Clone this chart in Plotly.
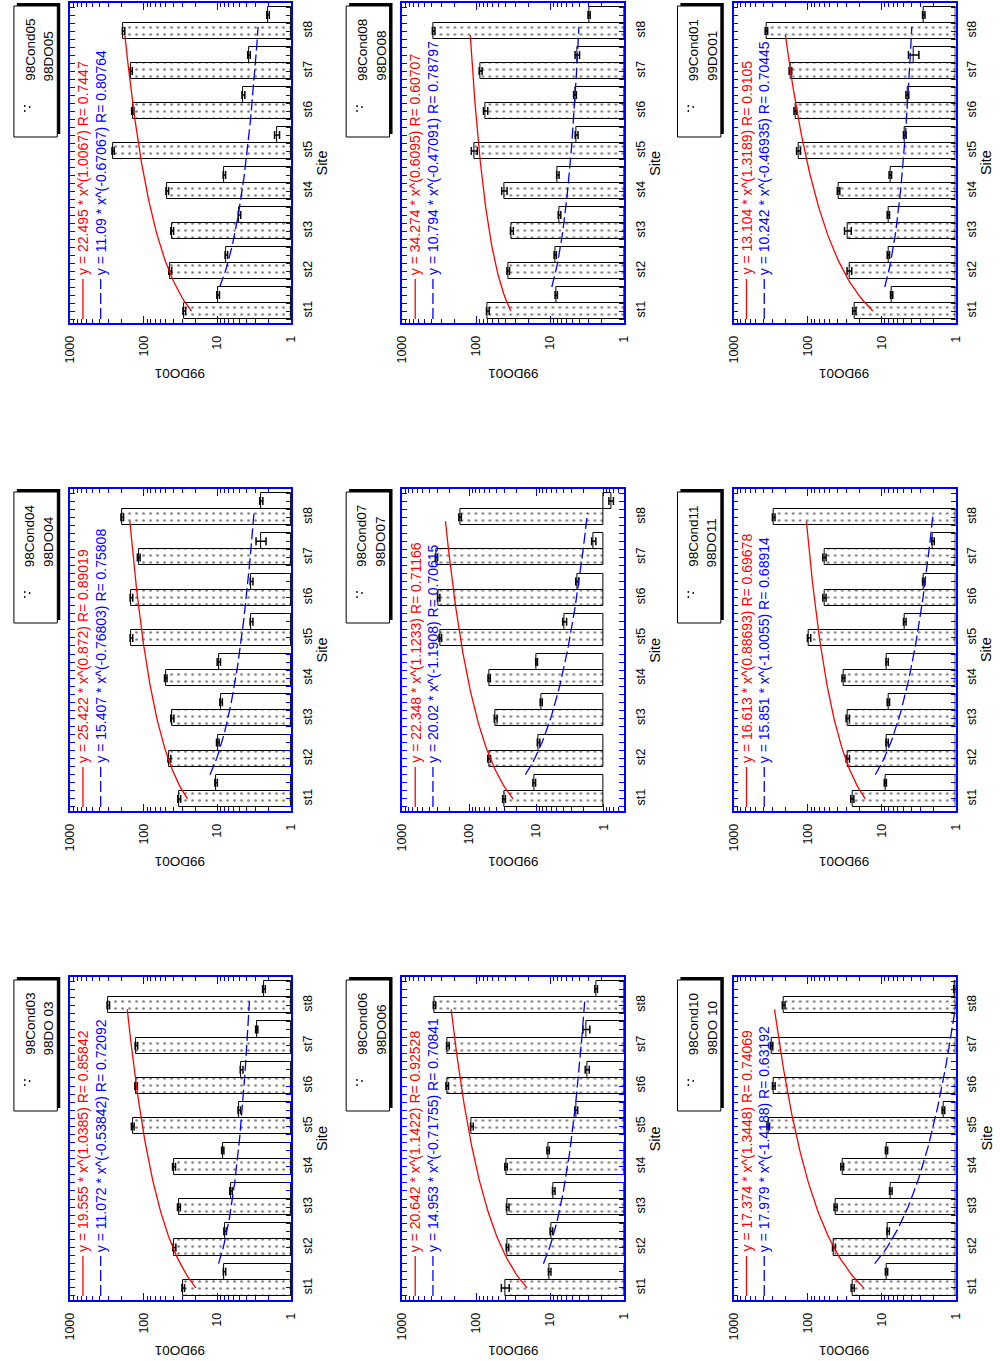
import plotly.graph_objects as go
import numpy as np

W, H = 1000, 1361
FONT = "Liberation Sans, Arial, sans-serif"

sites = ["st1", "st2", "st3", "st4", "st5", "st6", "st7", "st8"]
site_pos = [1, 2, 3, 4, 5, 6, 7, 8]
value_ticks = [1, 10, 100, 1000]
value_tick_text = ["1", "10", "100", "1000"]

# ---------------- data ----------------
cond05 = [28.1, 43.7, 41.1, 47.9, 261, 141, 148, 188]
do05 = [9.76, 7.55, 5.01, 8.03, 1.55, 4.43, 3.72, 2.05]
cond05_err = [1.2, 2.0, 1.8, 2.0, 9, 5, 5, 7]
do05_err = [0.4, 0.3, 0.2, 0.3, 0.12, 0.2, 0.15, 0.08]

cond08 = [69.9, 37.1, 33.1, 41.9, 107, 75.1, 87.5, 378]
do08 = [8.32, 8.58, 7.51, 7.9, 4.41, 4.64, 4.32, 2.99]
cond08_err = [3, 1.5, 1.5, 3.5, 10, 5, 4, 15]
do08_err = [0.3, 0.3, 0.3, 0.3, 0.2, 0.2, 0.3, 0.1]

cond9901 = [23.4, 27.3, 28.7, 38.2, 133, 147, 171, 361]
do9901 = [7.31, 8.1, 8.1, 7.62, 4.86, 4.49, 3.73, 2.69]
cond9901_err = [1.2, 2.0, 3.0, 1.5, 8, 6, 7, 14]
do9901_err = [0.25, 0.3, 0.3, 0.3, 0.2, 0.2, 0.6, 0.1]

cond04 = [33.0, 44.9, 40.9, 50.2, 147, 147, 117, 196]
do04 = [10.4, 9.86, 8.9, 9.55, 3.44, 3.43, 2.58, 2.53]
cond04_err = [1.5, 2, 2, 2, 6, 6, 5, 8]
do04_err = [0.4, 0.4, 0.35, 0.5, 0.15, 0.15, 0.4, 0.12]

cond07 = [30.5, 50.8, 40.6, 50.8, 272, 288, 311, 138]
do07 = [10.8, 9.3, 8.49, 9.95, 3.80, 2.47, 1.40, 0.77]
cond07_err = [1.5, 2.5, 2, 2, 12, 12, 12, 6]
do07_err = [0.5, 0.4, 0.3, 0.3, 0.25, 0.12, 0.1, 0.06]

cond11 = [24.9, 28.7, 28.7, 32.8, 95.7, 59.3, 59.3, 288]
do11 = [8.9, 8.43, 8.1, 8.43, 4.86, 2.69, 2.02, None]
cond11_err = [1.2, 1.5, 1.5, 1.5, 5, 3, 3, 12]
do11_err = [0.3, 0.3, 0.3, 0.3, 0.2, 0.1, 0.08, 0]

cond03 = [29.1, 38.4, 33.3, 38.8, 141, 127, 126, 303]
do03 = [8.0, 7.85, 6.53, 8.45, 5.04, 4.69, 2.92, 2.33]
cond03_err = [1.2, 1.8, 1.5, 1.8, 6, 5, 5, 12]
do03_err = [0.3, 0.3, 0.25, 0.3, 0.2, 0.2, 0.1, 0.1]

cond06 = [40.9, 38.0, 37.7, 39.7, 115, 248, 243, 368]
do06 = [10.2, 9.66, 8.98, 10.7, 4.46, 3.17, 3.27, 2.40]
cond06_err = [5, 1.5, 1.5, 1.5, 5, 10, 10, 14]
do06_err = [0.4, 0.4, 0.35, 0.4, 0.2, 0.2, 0.35, 0.1]

cond10 = [24.6, 44.1, 41.9, 34.1, 341, 287, 308, 211]
do10 = [8.58, 8.15, 7.51, 8.58, 1.46, None, None, 1.02]
cond10_err = [1.2, 2, 2, 1.5, 14, 12, 12, 9]
do10_err = [0.3, 0.3, 0.3, 0.3, 0.06, 0, 0, 0.04]

panels = [
    dict(n1="98Cond05", n2="98DO05", cond=cond05, do=do05, ce=cond05_err, de=do05_err,
         ra=22.495, rb=1.0067, rt="y = 22.495 * x^(1.0067) R= 0.7447",
         ba=11.09, bb=-0.67067, bt="y = 11.09 * x^(-0.67067) R= 0.80764", xmin=0),
    dict(n1="98Cond08", n2="98DO08", cond=cond08, do=do08, ce=cond08_err, de=do08_err,
         ra=34.274, rb=0.6095, rt="y = 34.274 * x^(0.6095) R= 0.60707",
         ba=10.794, bb=-0.47091, bt="y = 10.794 * x^(-0.47091) R= 0.78797", xmin=0),
    dict(n1="99Cond01", n2="99DO01", cond=cond9901, do=do9901, ce=cond9901_err, de=do9901_err,
         ra=13.104, rb=1.3189, rt="y = 13.104 * x^(1.3189) R= 0.9105",
         ba=10.242, bb=-0.46935, bt="y = 10.242 * x^(-0.46935) R= 0.70445", xmin=0),
    dict(n1="98Cond04", n2="98DO04", cond=cond04, do=do04, ce=cond04_err, de=do04_err,
         ra=25.422, rb=0.872, rt="y = 25.422 * x^(0.872) R= 0.89019",
         ba=15.407, bb=-0.76803, bt="y = 15.407 * x^(-0.76803) R= 0.75808", xmin=0),
    dict(n1="98Cond07", n2="98DO07", cond=cond07, do=do07, ce=cond07_err, de=do07_err,
         ra=22.348, rb=1.1233, rt="y = 22.348 * x^(1.1233) R= 0.71166",
         ba=20.02, bb=-1.1908, bt="y = 20.02 * x^(-1.1908) R= 0.70615", xmin=-0.31),
    dict(n1="98Cond11", n2="98DO11", cond=cond11, do=do11, ce=cond11_err, de=do11_err,
         ra=16.613, rb=0.88693, rt="y = 16.613 * x^(0.88693) R= 0.69678",
         ba=15.851, bb=-1.0055, bt="y = 15.851 * x^(-1.0055) R= 0.68914", xmin=0),
    dict(n1="98Cond03", n2="98DO 03", cond=cond03, do=do03, ce=cond03_err, de=do03_err,
         ra=19.555, rb=1.0385, rt="y = 19.555 * x^(1.0385) R= 0.85842",
         ba=11.072, bb=-0.53842, bt="y = 11.072 * x^(-0.53842) R= 0.72092", xmin=0),
    dict(n1="98Cond06", n2="98DO06", cond=cond06, do=do06, ce=cond06_err, de=do06_err,
         ra=20.642, rb=1.1422, rt="y = 20.642 * x^(1.1422) R= 0.92528",
         ba=14.953, bb=-0.71755, bt="y = 14.953 * x^(-0.71755) R= 0.70841", xmin=0),
    dict(n1="98Cond10", n2="98DO 10", cond=cond10, do=do10, ce=cond10_err, de=do10_err,
         ra=17.374, rb=1.3448, rt="y = 17.374 * x^(1.3448) R= 0.74069",
         ba=17.979, bb=-1.4188, bt="y = 17.979 * x^(-1.4188) R= 0.63192", xmin=0),
]

col_left = [64, 401, 737]
col_right = [288, 626, 962]
row_top = [3, 489, 977]
row_bot = [323, 811, 1300]

BAR_W = 0.4
DO_OFF = 0.4
BLUE = "#0000ff"
RED = "#ff0000"


def px(x):
    return x / W


def py(y):
    return 1 - y / H


fig = go.Figure()
shapes = []
annotations = []
layout_axes = {}

for i, p in enumerate(panels):
    r, c = divmod(i, 3)
    L, R_, T, B = col_left[c], col_right[c], row_top[r], row_bot[r]
    k = "" if i == 0 else str(i + 1)
    xr, yr = "x" + k, "y" + k

    cond_pos = [s for s, v in zip(site_pos, p["cond"]) if v is not None]
    cond_val = [v for v in p["cond"] if v is not None]
    do_pos = [s + DO_OFF for s, v in zip(site_pos, p["do"]) if v is not None]
    do_val = [v for v in p["do"] if v is not None]
    do_err = [e for e, v in zip(p["de"], p["do"]) if v is not None]

    fig.add_trace(go.Bar(
        x=[v - 1 for v in cond_val], base=1, y=cond_pos, width=BAR_W, orientation="h",
        marker=dict(color="white",
                    pattern=dict(shape=".", fgcolor="black", bgcolor="white", size=7, solidity=0.12),
                    line=dict(color="black", width=1)),
        xaxis=xr, yaxis=yr, showlegend=False, hoverinfo="skip"))
    fig.add_trace(go.Bar(
        x=[v - 1 for v in do_val], base=1, y=do_pos, width=BAR_W, orientation="h",
        marker=dict(color="white", line=dict(color="black", width=1)),
        xaxis=xr, yaxis=yr, showlegend=False, hoverinfo="skip"))
    # error bars
    fig.add_trace(go.Scatter(
        x=cond_val, y=cond_pos, mode="markers", marker=dict(size=1, color="rgba(0,0,0,0)"),
        error_x=dict(type="data", array=p["ce"], color="black", thickness=1.5, width=4),
        xaxis=xr, yaxis=yr, showlegend=False, hoverinfo="skip"))
    fig.add_trace(go.Scatter(
        x=do_val, y=do_pos, mode="markers", marker=dict(size=1, color="rgba(0,0,0,0)"),
        error_x=dict(type="data", array=do_err, color="black", thickness=1.5, width=4),
        xaxis=xr, yaxis=yr, showlegend=False, hoverinfo="skip"))

    # fitted power curves
    xr_fit = np.linspace(1.0, 7.9, 80)
    fig.add_trace(go.Scatter(
        x=p["ra"] * xr_fit ** p["rb"], y=xr_fit, mode="lines",
        line=dict(color=RED, width=1.3), xaxis=xr, yaxis=yr, showlegend=False, hoverinfo="skip"))
    xb_fit = np.linspace(1.3, 7.8, 80)
    fig.add_trace(go.Scatter(
        x=p["ba"] * xb_fit ** p["bb"], y=xb_fit + 0.3, mode="lines",
        line=dict(color=BLUE, width=1.3, dash="11px,4px"), xaxis=xr, yaxis=yr,
        showlegend=False, hoverinfo="skip"))

    minor_vals = [m * d for d in (1, 10, 100) for m in range(2, 10)]
    if p["xmin"] < 0:
        minor_vals = [0.5, 0.6, 0.7, 0.8, 0.9] + minor_vals

    layout_axes["xaxis" + k] = dict(
        domain=[px(L), px(R_)], anchor=yr, type="log", range=[3, p["xmin"]], autorange=False,
        showline=True, linecolor=BLUE, linewidth=1.5, mirror="ticks",
        ticks="inside", ticklen=7, tickcolor=BLUE, tickwidth=1,
        tickmode="array", tickvals=value_ticks, ticktext=value_tick_text, tickangle=-90,
        tickfont=dict(family=FONT, size=12.5, color="black"), ticklabelstandoff=6,
        minor=dict(tickmode="array", tickvals=minor_vals, ticks="inside", ticklen=4,
                   tickcolor=BLUE, tickwidth=1, showgrid=False),
        showgrid=False, zeroline=False, fixedrange=True)
    layout_axes["yaxis" + k] = dict(
        domain=[py(B), py(T)], anchor=xr, range=[0.7, 8.7], autorange=False, side="right",
        showline=True, linecolor=BLUE, linewidth=1.5, mirror="ticks",
        ticks="inside", ticklen=5, tickcolor=BLUE, tickwidth=1,
        tickmode="array", tickvals=site_pos, ticktext=sites, tickangle=-90,
        tickfont=dict(family=FONT, size=12.5, color="black"), ticklabelstandoff=4,
        minor=dict(dtick=0.2, tick0=0, ticks="inside", ticklen=5, tickcolor=BLUE, tickwidth=1,
                   showgrid=False),
        showgrid=False, zeroline=False, fixedrange=True)

    # equation "legend" inside the plot
    shapes.append(dict(type="line", xref="paper", yref="paper",
                       x0=px(L + 13), x1=px(L + 13), y0=py(B - 4), y1=py(B - 44),
                       line=dict(color=RED, width=1.3)))
    shapes.append(dict(type="line", xref="paper", yref="paper",
                       x0=px(L + 31), x1=px(L + 31), y0=py(B - 4), y1=py(B - 44),
                       line=dict(color=BLUE, width=1.3, dash="11px,4px")))
    annotations.append(dict(text=p["rt"], xref="paper", yref="paper", x=px(L + 13), y=py(B - 46),
                            xanchor="center", yanchor="bottom", textangle=-90, showarrow=False,
                            font=dict(family=FONT, size=14, color=RED)))
    annotations.append(dict(text=p["bt"], xref="paper", yref="paper", x=px(L + 31), y=py(B - 46),
                            xanchor="center", yanchor="bottom", textangle=-90, showarrow=False,
                            font=dict(family=FONT, size=14, color=BLUE)))

    # axis titles
    annotations.append(dict(text="Site", xref="paper", yref="paper", x=px(R_ + 31), y=py((T + B) / 2),
                            xanchor="center", yanchor="middle", textangle=-90, showarrow=False,
                            font=dict(family=FONT, size=14.5, color="black")))
    annotations.append(dict(text="99DO01", xref="paper", yref="paper", x=px((L + R_) / 2), y=py(B + 51),
                            xanchor="center", yanchor="middle", textangle=180, showarrow=False,
                            font=dict(family=FONT, size=13.5, color="black")))

    # series legend box with shadow
    shapes.append(dict(type="rect", xref="paper", yref="paper",
                       x0=px(L - 54), x1=px(L - 10), y0=py(T + 131), y1=py(T),
                       fillcolor="black", line=dict(width=0)))
    shapes.append(dict(type="rect", xref="paper", yref="paper",
                       x0=px(L - 57), x1=px(L - 13), y0=py(T + 134), y1=py(T + 3),
                       fillcolor="white", line=dict(color="black", width=1)))
    for dx, dy in [(-46, 103), (-46, 108), (-41, 104)]:
        shapes.append(dict(type="circle", xref="paper", yref="paper",
                           x0=px(L + dx - 0.9), x1=px(L + dx + 0.9),
                           y0=py(T + dy + 0.9), y1=py(T + dy - 0.9),
                           fillcolor="black", line=dict(width=0)))
    annotations.append(dict(text=p["n1"], xref="paper", yref="paper", x=px(L - 41), y=py(T + 80),
                            xanchor="center", yanchor="bottom", textangle=-90, showarrow=False,
                            font=dict(family=FONT, size=13.5, color="black")))
    annotations.append(dict(text=p["n2"], xref="paper", yref="paper", x=px(L - 22), y=py(T + 80),
                            xanchor="center", yanchor="bottom", textangle=-90, showarrow=False,
                            font=dict(family=FONT, size=13.5, color="black")))

fig.update_layout(
    width=W, height=H, margin=dict(l=0, r=0, t=0, b=0),
    paper_bgcolor="white", plot_bgcolor="white",
    barmode="overlay", bargap=0, showlegend=False,
    shapes=shapes, annotations=annotations,
    font=dict(family=FONT, size=12, color="black"),
    **layout_axes)

fig.write_html("out.html",
               config={"displayModeBar": False, "staticPlot": False},
               post_script="document.body.style.margin='0';document.body.style.overflow='hidden';")
